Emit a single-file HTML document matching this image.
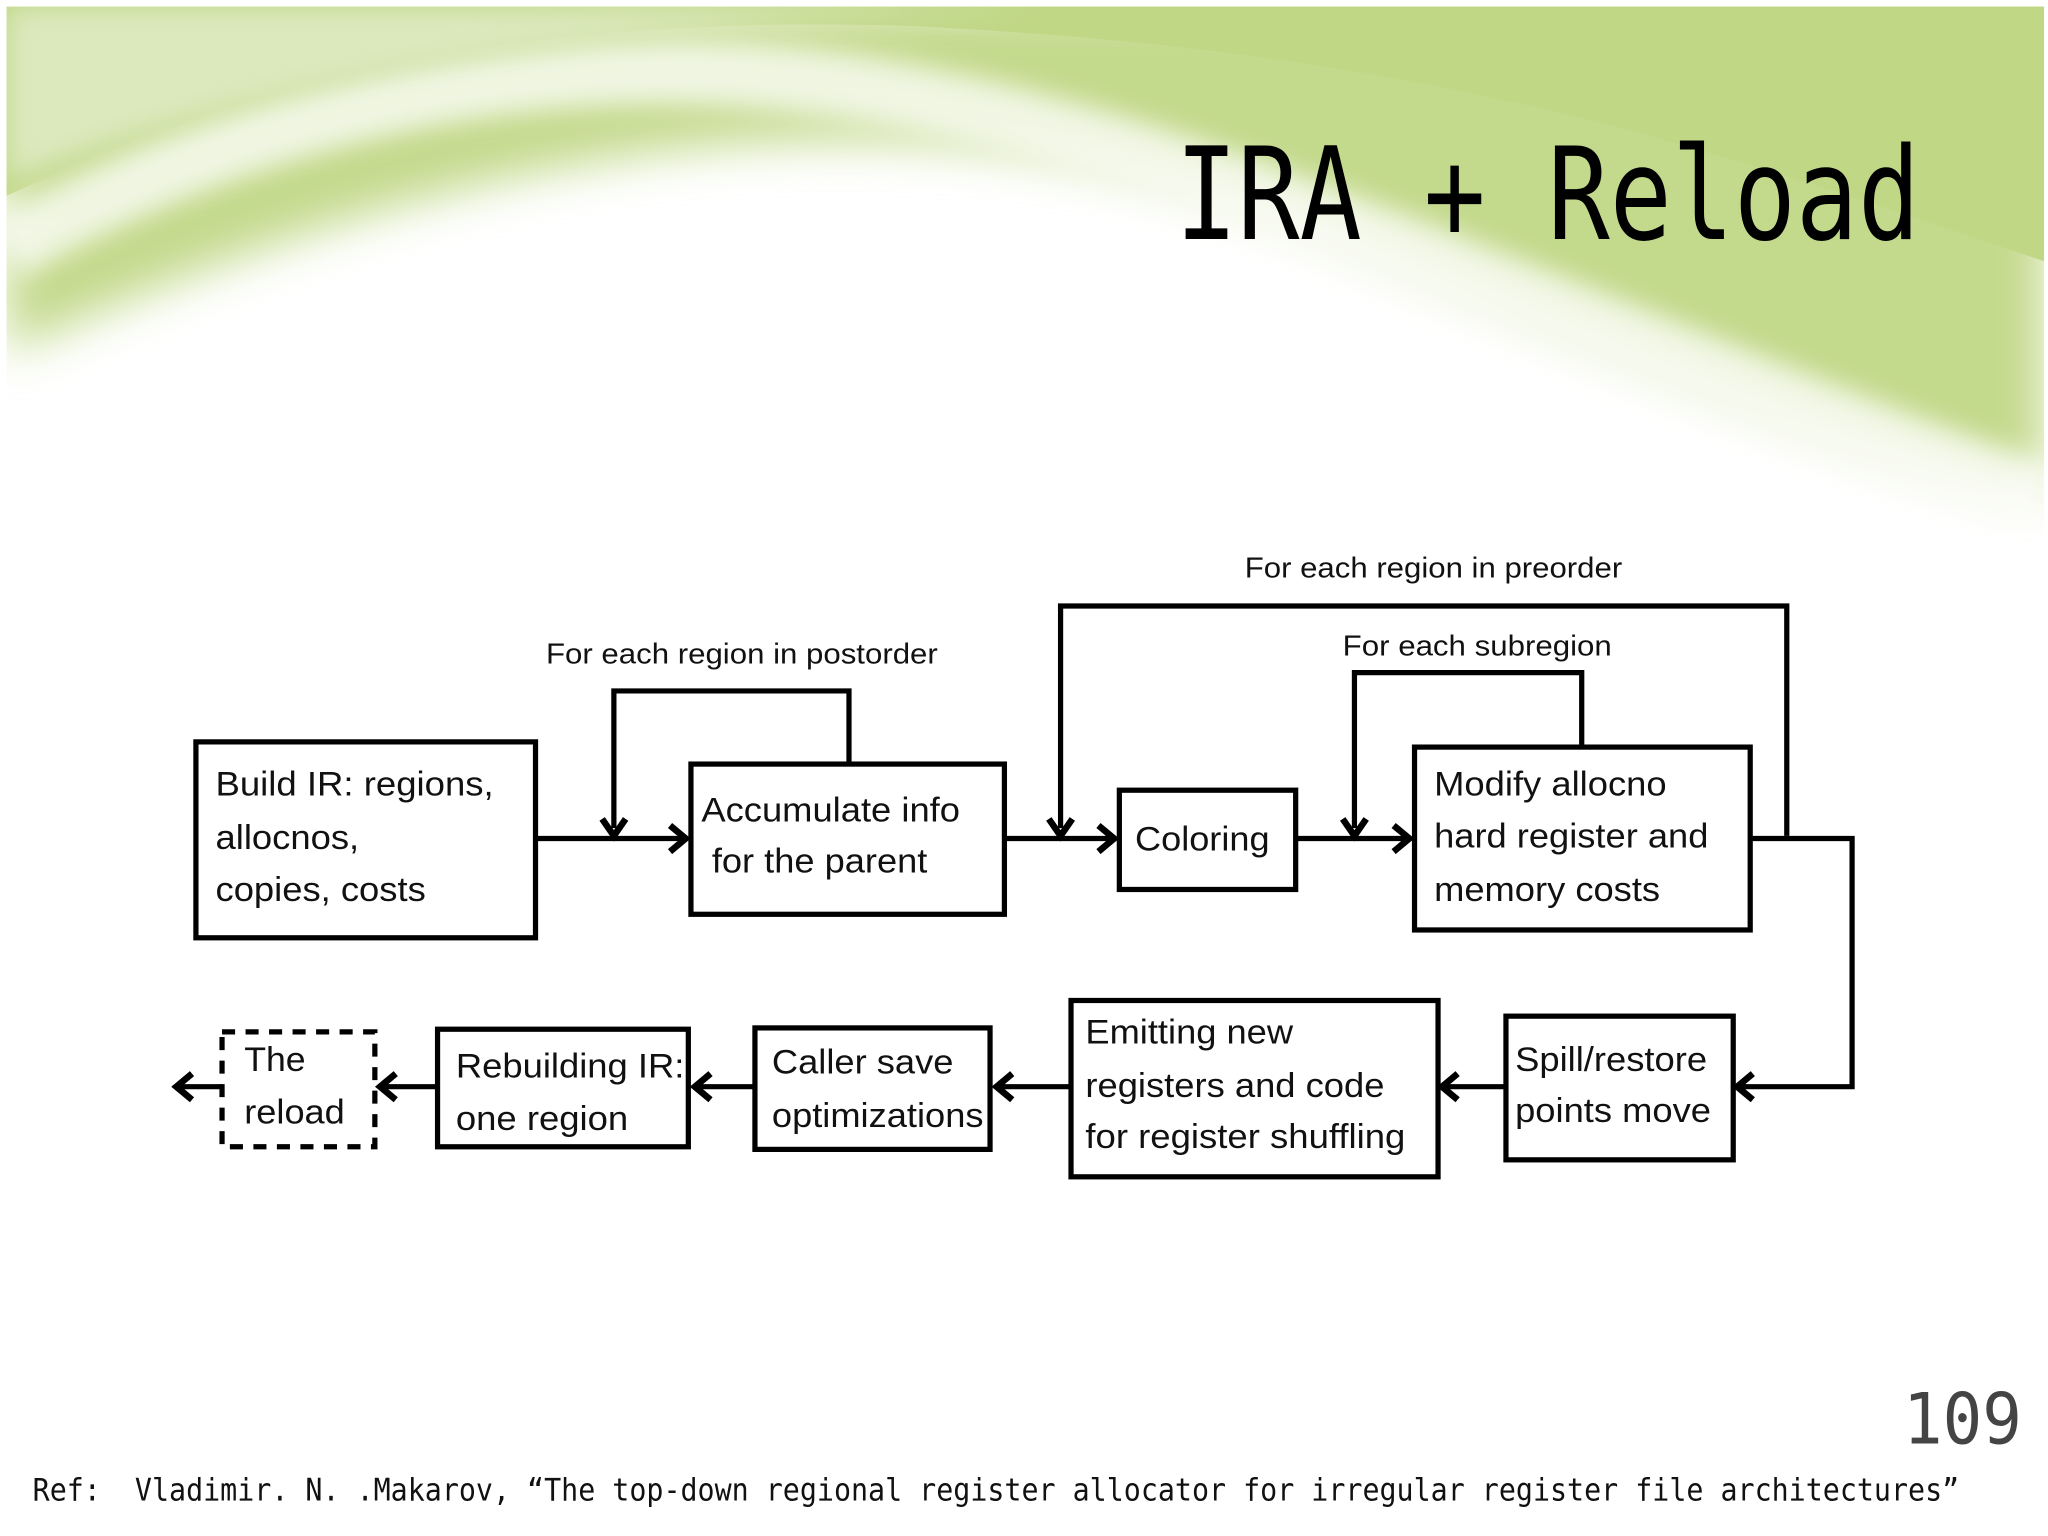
<!DOCTYPE html>
<html><head><meta charset="utf-8"><style>
html,body{margin:0;padding:0;background:#fff;width:2048px;height:1536px;overflow:hidden}
svg{display:block}
</style></head><body>
<svg width="2048" height="1536" viewBox="0 0 1568 1176" xmlns="http://www.w3.org/2000/svg">
<defs>
<filter id="bl" x="-10%" y="-50%" width="120%" height="200%"><feGaussianBlur stdDeviation="18"/></filter>
<filter id="bl2" x="-10%" y="-50%" width="120%" height="200%"><feGaussianBlur stdDeviation="10"/></filter>
</defs>
<rect width="1568" height="1176" fill="#fff"/>
<path d="M5,5 H1565 V380 C1400,340 1200,250 1000,170 C800,100 500,40 5,270 Z" fill="#c3d98b" filter="url(#bl)"/>
<path d="M5,5 H1565 V200 C1300,110 1100,40 700,20 C400,10 200,60 5,150 Z" fill="#c0d786"/>
<path d="M5,190 C200,80 420,40 600,60 C800,80 1000,160 1250,260 C1400,320 1500,360 1565,380" fill="none" stroke="#fff" stroke-width="50" stroke-opacity="0.75" filter="url(#bl2)"/>
<path d="M5,5 H800 C450,20 200,60 5,140 Z" fill="#dbe9bd" filter="url(#bl2)"/>
<rect x="0" y="0" width="1568" height="5" fill="#fff"/>
<rect x="1565" y="0" width="3" height="1176" fill="#fff"/>
<rect x="0" y="0" width="5" height="1176" fill="#fff"/>

<text x="900" y="183" font-family="DejaVu Sans Mono, Liberation Mono, monospace" font-size="98" textLength="570" lengthAdjust="spacingAndGlyphs" fill="#000">IRA + Reload</text>

<g font-family="Liberation Sans, Arial, sans-serif" fill="#111">
<text x="953" y="442" font-size="22" textLength="289" lengthAdjust="spacingAndGlyphs">For each region in preorder</text>
<text x="418" y="508" font-size="22" textLength="300" lengthAdjust="spacingAndGlyphs">For each region in postorder</text>
<text x="1028" y="502" font-size="22" textLength="206" lengthAdjust="spacingAndGlyphs">For each subregion</text>
</g>

<g fill="none" stroke="#000" stroke-width="4">
<rect x="150" y="568" width="260" height="150"/>
<rect x="529" y="585" width="240" height="115"/>
<rect x="857" y="605" width="135" height="76"/>
<rect x="1083" y="572" width="257" height="140"/>
<rect x="1153" y="778" width="174" height="110"/>
<rect x="820" y="766" width="281" height="135"/>
<rect x="578" y="787" width="180" height="93"/>
<rect x="335" y="788" width="192" height="90"/>
<rect x="170" y="790" width="117" height="88" stroke-dasharray="10,8"/>
<path d="M410,642 H522"/>
<path d="M650,585 V529 H470 V634"/>
<path d="M769,642 H850"/>
<path d="M1368,640 V464 H812 V634"/>
<path d="M1211,572 V515 H1037 V634"/>
<path d="M992,642 H1076"/>
<path d="M1340,642 H1418 V832 H1333"/>
<path d="M1153,832 H1107"/>
<path d="M820,832 H766"/>
<path d="M578,832 H535"/>
<path d="M335,832 H294"/>
<path d="M170,832 H138"/>
</g>
<g fill="none" stroke="#000" stroke-width="5" stroke-linejoin="miter">
<path d="M513,632 L525,642 L513,652"/>
<path d="M461,627 L470,640 L479,627"/>
<path d="M841,632 L853,642 L841,652"/>
<path d="M803,627 L812,640 L821,627"/>
<path d="M1028,627 L1037,640 L1046,627"/>
<path d="M1067,632 L1079,642 L1067,652"/>
<path d="M1342,822 L1330,832 L1342,842"/>
<path d="M1116,822 L1104,832 L1116,842"/>
<path d="M775,822 L763,832 L775,842"/>
<path d="M544,822 L532,832 L544,842"/>
<path d="M303,822 L291,832 L303,842"/>
<path d="M147,822 L135,832 L147,842"/>
</g>

<g font-family="Liberation Sans, Arial, sans-serif" font-size="26" fill="#111" lengthAdjust="spacingAndGlyphs">
<text x="165" y="609" textLength="213" lengthAdjust="spacingAndGlyphs">Build IR: regions,</text>
<text x="165" y="650" textLength="110" lengthAdjust="spacingAndGlyphs">allocnos,</text>
<text x="165" y="690" textLength="161" lengthAdjust="spacingAndGlyphs">copies, costs</text>
<text x="537" y="629" textLength="198" lengthAdjust="spacingAndGlyphs">Accumulate info</text>
<text x="545" y="668" textLength="165" lengthAdjust="spacingAndGlyphs">for the parent</text>
<text x="869" y="651" textLength="103" lengthAdjust="spacingAndGlyphs">Coloring</text>
<text x="1098" y="609" textLength="178" lengthAdjust="spacingAndGlyphs">Modify allocno</text>
<text x="1098" y="649" textLength="210" lengthAdjust="spacingAndGlyphs">hard register and</text>
<text x="1098" y="690" textLength="173" lengthAdjust="spacingAndGlyphs">memory costs</text>
<text x="1160" y="820" textLength="147" lengthAdjust="spacingAndGlyphs">Spill/restore</text>
<text x="1160" y="859" textLength="150" lengthAdjust="spacingAndGlyphs">points move</text>
<text x="831" y="799" textLength="159" lengthAdjust="spacingAndGlyphs">Emitting new</text>
<text x="831" y="840" textLength="229" lengthAdjust="spacingAndGlyphs">registers and code</text>
<text x="831" y="879" textLength="245" lengthAdjust="spacingAndGlyphs">for register shuffling</text>
<text x="591" y="822" textLength="139" lengthAdjust="spacingAndGlyphs">Caller save</text>
<text x="591" y="863" textLength="162" lengthAdjust="spacingAndGlyphs">optimizations</text>
<text x="349" y="825" textLength="175" lengthAdjust="spacingAndGlyphs">Rebuilding IR:</text>
<text x="349" y="865" textLength="132" lengthAdjust="spacingAndGlyphs">one region</text>
<text x="187" y="820" textLength="47" lengthAdjust="spacingAndGlyphs">The</text>
<text x="187" y="860" textLength="77" lengthAdjust="spacingAndGlyphs">reload</text>
</g>

<text x="1457" y="1105" font-family="DejaVu Sans Mono, Liberation Mono, monospace" font-size="54" fill="#444" textLength="91" lengthAdjust="spacingAndGlyphs">109</text>
<text x="25" y="1149" font-family="DejaVu Sans Mono, Liberation Mono, monospace" font-size="24" fill="#111" textLength="1475" lengthAdjust="spacingAndGlyphs" xml:space="preserve">Ref:  Vladimir. N. .Makarov, “The top-down regional register allocator for irregular register file architectures”</text>
</svg>
</body></html>
